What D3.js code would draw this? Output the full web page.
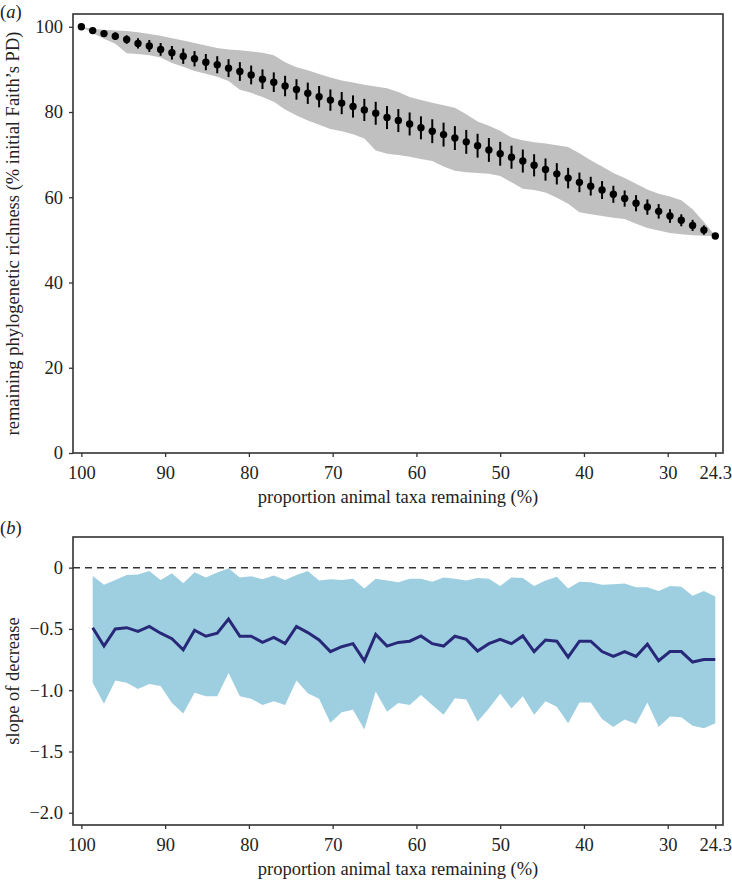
<!DOCTYPE html>
<html>
<head>
<meta charset="utf-8">
<script src="https://cdn.jsdelivr.net/npm/d3@7"></script>
<style>
    body { margin: 0; background: #fff; }
    svg text { font-family: "Liberation Serif", "DejaVu Serif", serif; fill: #222; }
    .axis path { display: none; }
    .axis line { stroke: #333; stroke-width: 1.3; }
    .axis text { font-size: 18.5px; }
    .frame { fill: none; stroke: #333; stroke-width: 1.6; }
    .label { font-size: 18.5px; }
</style>
</head>
<body>
<svg id="chart" width="732" height="880"></svg>
<script>
// proportion of animal taxa remaining (%), one per removal step
var taxaPct = [100.00, 98.65, 97.30, 95.95, 94.59, 93.24, 91.89, 90.54, 89.19, 87.84,
    86.49, 85.14, 83.78, 82.43, 81.08, 79.73, 78.38, 77.03, 75.68, 74.32,
    72.97, 71.62, 70.27, 68.92, 67.57, 66.22, 64.86, 63.51, 62.16, 60.81,
    59.46, 58.11, 56.76, 55.41, 54.05, 52.70, 51.35, 50.00, 48.65, 47.30,
    45.95, 44.59, 43.24, 41.89, 40.54, 39.19, 37.84, 36.49, 35.14, 33.78,
    32.43, 31.08, 29.73, 28.38, 27.03, 25.68, 24.32];

// (a) remaining Faith's PD: mean, error bar half-length, min/max envelope
var meanPD = [100, 99.1, 98.4, 97.8, 97.0, 96.1, 95.5, 94.7, 93.9, 93.1,
    92.5, 91.7, 91.1, 90.3, 89.5, 88.7, 87.7, 87.0, 86.1, 85.3,
    84.4, 83.6, 82.8, 82.1, 81.3, 80.5, 79.7, 78.7, 78.0, 77.2,
    76.3, 75.5, 74.7, 73.9, 73.0, 72.1, 71.1, 70.2, 69.4, 68.5,
    67.5, 66.5, 65.5, 64.5, 63.5, 62.6, 61.7, 60.7, 59.7, 58.6,
    57.7, 56.7, 55.6, 54.6, 53.4, 52.3, 50.9];
var errPD = [0, 0.4, 0.7, 0.9, 1.0, 1.2, 1.4, 1.5, 1.6, 1.8,
    1.8, 1.9, 2.0, 2.1, 2.2, 2.2, 2.3, 2.3, 2.4, 2.4,
    2.5, 2.5, 2.5, 2.6, 2.6, 2.6, 2.7, 2.7, 2.7, 2.7,
    2.7, 2.8, 2.8, 2.8, 2.8, 2.8, 2.8, 2.8, 2.7, 2.7,
    2.6, 2.6, 2.5, 2.4, 2.3, 2.2, 2.1, 2.0, 1.9, 1.9,
    1.8, 1.7, 1.6, 1.4, 1.3, 1.1, 0];
var highPD = [100, 99.5, 99.3, 99.1, 99.0, 98.7, 98.3, 97.9, 97.3, 96.8,
    96.2, 95.6, 95.0, 94.7, 94.5, 94.2, 93.9, 93.3, 91.7, 90.5,
    89.8, 88.9, 88.1, 87.4, 86.9, 86.4, 86.0, 85.6, 84.7, 83.5,
    82.8, 82.2, 81.6, 81.0, 79.5, 77.8, 76.8, 75.6, 74.0, 73.4,
    72.9, 72.6, 72.2, 71.8, 70.3, 68.7, 67.2, 65.7, 64.5, 63.2,
    61.8, 60.8, 60.2, 59.3, 57.2, 54.2, 51.0];
var lowPD = [100, 98.5, 97.2, 96.0, 93.8, 93.6, 93.3, 92.8, 91.5, 90.6,
    89.6, 89.0, 88.3, 87.3, 85.2, 84.5, 83.5, 82.4, 80.6, 79.2,
    78.0, 77.0, 76.0, 75.5, 74.8, 73.8, 71.0, 70.2, 69.9, 69.5,
    69.0, 68.5, 67.2, 66.2, 65.9, 65.7, 65.5, 65.0, 63.5, 62.0,
    61.7, 61.1, 59.9, 58.5, 56.5, 56.0, 55.6, 55.2, 54.9, 53.8,
    52.8, 52.2, 51.6, 51.3, 51.1, 51.0, 50.9];

// (b) slope of decrease, from the second step on
var slopeMean = [-0.49, -0.64, -0.50, -0.49, -0.52, -0.48, -0.535, -0.58, -0.67, -0.51,
    -0.56, -0.535, -0.42, -0.56, -0.56, -0.61, -0.57, -0.62, -0.48, -0.53,
    -0.59, -0.685, -0.645, -0.62, -0.76, -0.545, -0.64, -0.61, -0.60, -0.557,
    -0.62, -0.64, -0.56, -0.585, -0.68, -0.62, -0.585, -0.62, -0.557, -0.685,
    -0.59, -0.60, -0.73, -0.60, -0.60, -0.685, -0.725, -0.685, -0.725, -0.625,
    -0.76, -0.685, -0.685, -0.77, -0.75, -0.75];
var slopeHigh = [-0.068, -0.14, -0.10, -0.06, -0.055, -0.027, -0.10, -0.046, -0.127, -0.038,
    -0.08, -0.04, -0.005, -0.08, -0.07, -0.095, -0.065, -0.10, -0.06, -0.027,
    -0.105, -0.095, -0.10, -0.09, -0.17, -0.09, -0.105, -0.12, -0.09, -0.09,
    -0.115, -0.08, -0.09, -0.105, -0.085, -0.09, -0.15, -0.08, -0.085, -0.15,
    -0.105, -0.075, -0.17, -0.115, -0.12, -0.14, -0.135, -0.13, -0.16, -0.16,
    -0.19, -0.15, -0.155, -0.23, -0.19, -0.235];
var slopeLow = [-0.94, -1.11, -0.92, -0.94, -0.99, -0.95, -0.965, -1.105, -1.19, -1.02,
    -1.05, -1.05, -0.86, -1.05, -1.07, -1.12, -1.09, -1.12, -0.92, -1.025,
    -1.07, -1.265, -1.18, -1.16, -1.32, -1.01, -1.175, -1.105, -1.12, -1.04,
    -1.12, -1.20, -1.065, -1.075, -1.255, -1.15, -1.03, -1.15, -1.05, -1.20,
    -1.09, -1.135, -1.27, -1.10, -1.10, -1.235, -1.30, -1.24, -1.275, -1.10,
    -1.30, -1.215, -1.22, -1.29, -1.31, -1.27];

var xTicks = [100, 90, 80, 70, 60, 50, 40, 30, 24.32];
var yTicksA = [0, 20, 40, 60, 80, 100];
var yTicksB = [0, -0.5, -1.0, -1.5, -2.0];

var svg = d3.select('#chart');

var left = 73, right = 723;
var panelA = { top: 14, bottom: 453 };
var panelB = { top: 537, bottom: 825 };

var x = d3.scaleLinear().domain([101, 23.4]).range([left, right]);
var yA = d3.scaleLinear().domain([0, 103]).range([panelA.bottom, panelA.top]);
var yB = d3.scaleLinear().domain([-2.1, 0.25]).range([panelB.bottom, panelB.top]);

var fmtX = function (d) { return d === 24.32 ? '24.3' : d3.format('d')(d); };
var fmtB = function (d) { return d === 0 ? '0' : d3.format('.1f')(d).replace('-', '\u2212'); };

// Оси и рамка для одной панели
function drawFrame(panel, yScale, yTicks, yFmt) {
    svg.append('g')
        .attr('class', 'axis')
        .attr('transform', `translate(0, ${panel.bottom})`)
        .call(d3.axisBottom(x).tickValues(xTicks).tickFormat(fmtX).tickSize(4).tickPadding(9));

    svg.append('g')
        .attr('class', 'axis')
        .attr('transform', `translate(${left}, 0)`)
        .call(d3.axisLeft(yScale).tickValues(yTicks).tickFormat(yFmt).tickSize(4).tickPadding(6));

    svg.append('rect')
        .attr('class', 'frame')
        .attr('x', left)
        .attr('y', panel.top)
        .attr('width', right - left)
        .attr('height', panel.bottom - panel.top);

    svg.append('text')
        .attr('class', 'label')
        .attr('x', (left + right) / 2)
        .attr('y', panel.bottom + 50)
        .attr('text-anchor', 'middle')
        .text('proportion animal taxa remaining (%)');
}

// ---- панель (a) ----
var pdData = taxaPct.map((p, i) => ({ p: p, m: meanPD[i], e: errPD[i], lo: lowPD[i], hi: highPD[i] }));

svg.append('path')
    .datum(pdData)
    .attr('fill', '#c0c0c0')
    .attr('d', d3.area()
        .x(d => x(d.p))
        .y0(d => yA(d.lo))
        .y1(d => yA(d.hi)));

svg.selectAll('.errbar')
    .data(pdData)
    .enter()
    .append('line')
    .attr('class', 'errbar')
    .attr('x1', d => x(d.p))
    .attr('x2', d => x(d.p))
    .attr('y1', d => yA(d.m - d.e))
    .attr('y2', d => yA(d.m + d.e))
    .attr('stroke', '#000')
    .attr('stroke-width', 2);

svg.selectAll('.pt')
    .data(pdData)
    .enter()
    .append('circle')
    .attr('class', 'pt')
    .attr('cx', d => x(d.p))
    .attr('cy', d => yA(d.m))
    .attr('r', 3.7)
    .attr('fill', '#000');

drawFrame(panelA, yA, yTicksA, d3.format('d'));

svg.append('text')
    .attr('class', 'label')
    .attr('transform', `translate(19, ${(panelA.top + panelA.bottom) / 2}) rotate(-90)`)
    .attr('text-anchor', 'middle')
    .text('remaining phylogenetic richness (% initial Faith\u2019s PD)');

var tagA = svg.append('text').attr('class', 'label').attr('x', 0).attr('y', 18);
tagA.append('tspan').text('(');
tagA.append('tspan').attr('font-style', 'italic').text('a');
tagA.append('tspan').text(')');

// ---- панель (b) ----
var slopeData = slopeMean.map((m, i) => ({ p: taxaPct[i + 1], m: m, lo: slopeLow[i], hi: slopeHigh[i] }));

svg.append('path')
    .datum(slopeData)
    .attr('fill', '#9ecfe1')
    .attr('d', d3.area()
        .x(d => x(d.p))
        .y0(d => yB(d.lo))
        .y1(d => yB(d.hi)));

svg.append('line')
    .attr('x1', left)
    .attr('x2', right)
    .attr('y1', yB(0))
    .attr('y2', yB(0))
    .attr('stroke', '#333')
    .attr('stroke-width', 1.5)
    .attr('stroke-dasharray', '7,5');

svg.append('path')
    .datum(slopeData)
    .attr('fill', 'none')
    .attr('stroke', '#282878')
    .attr('stroke-width', 3)
    .attr('stroke-linejoin', 'miter')
    .attr('d', d3.line()
        .x(d => x(d.p))
        .y(d => yB(d.m)));

drawFrame(panelB, yB, yTicksB, fmtB);

svg.append('text')
    .attr('class', 'label')
    .attr('transform', `translate(19, ${(panelB.top + panelB.bottom) / 2}) rotate(-90)`)
    .attr('text-anchor', 'middle')
    .text('slope of decrease');

var tagB = svg.append('text').attr('class', 'label').attr('x', 0).attr('y', 534);
tagB.append('tspan').text('(');
tagB.append('tspan').attr('font-style', 'italic').text('b');
tagB.append('tspan').text(')');
</script>
</body>
</html>
